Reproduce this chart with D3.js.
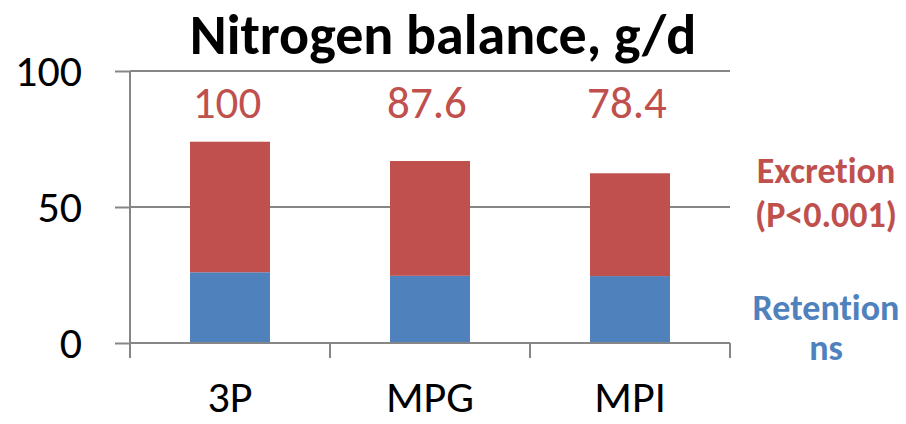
<!DOCTYPE html>
<html>
<head>
<meta charset="utf-8">
<script src="https://cdn.jsdelivr.net/npm/d3@7"></script>
<style>
  body { margin: 0; background: #fff; }
  text { font-family: Carlito, Lato, sans-serif; font-variant-ligatures: none; }
</style>
</head>
<body>
<svg></svg>
<script>
const width = 906;
const height = 424;

// chart data
const categories = ['3P', 'MPG', 'MPI'];
const retention = [26.0, 24.7, 24.6];
const excretion = [48.0, 42.2, 37.8];
const totalLabels = ['100', '87.6', '78.4'];
const yTicks = [0, 50, 100];

const red = '#C0504D';
const blue = '#4F81BD';
const axisGrey = '#868686';

const svg = d3.select('svg')
    .attr('width', width).attr('height', height);

const x = d3.scaleBand()
    .domain(categories)
    .range([130, 730])
    .paddingInner(0.6)
    .paddingOuter(0.3);

const y = d3.scaleLinear()
    .domain([0, 100])
    .range([343, 71]);

// gridlines
svg.append('g')
    .selectAll('line')
    .data(yTicks.filter(d => d > 0))
    .enter().append('line')
    .attr('x1', 130).attr('x2', 730)
    .attr('y1', d => y(d)).attr('y2', d => y(d))
    .style('stroke', axisGrey)
    .style('stroke-width', 2);

// stacked bars
const rows = categories.map((c, i) => ({cat: c, ret: retention[i], exc: excretion[i]}));
const stack = d3.stack().keys(['ret', 'exc'])(rows);
const colors = {ret: blue, exc: red};

svg.append('g')
    .selectAll('g')
    .data(stack)
    .enter().append('g')
    .style('fill', d => colors[d.key])
    .selectAll('rect')
    .data(d => d)
    .enter().append('rect')
    .attr('x', d => x(d.data.cat))
    .attr('width', x.bandwidth())
    .attr('y', d => y(d[1]))
    .attr('height', d => y(d[0]) - y(d[1]));

// y axis
const yAxis = d3.axisLeft(y)
    .tickValues(yTicks)
    .tickSize(15)
    .tickPadding(33);

const gy = svg.append('g')
    .attr('transform', 'translate(130,0)')
    .call(yAxis);
gy.select('.domain').remove();
gy.append('line')
    .attr('x1', 0).attr('x2', 0)
    .attr('y1', y(100)).attr('y2', y(0) + 15);
gy.selectAll('line')
    .style('stroke', axisGrey)
    .style('stroke-width', 2);
gy.selectAll('text')
    .style('font-size', '44px')
    .style('fill', '#000');

// x axis baseline and category ticks
svg.append('line')
    .attr('x1', 130).attr('x2', 730)
    .attr('y1', y(0)).attr('y2', y(0))
    .style('stroke', axisGrey)
    .style('stroke-width', 2);

const bounds = x.domain().map(c => x(c) - x.step() * x.paddingOuter())
    .concat([x.range()[1]]);
svg.append('g')
    .selectAll('line')
    .data(bounds.slice(1))
    .enter().append('line')
    .attr('x1', d => d).attr('x2', d => d)
    .attr('y1', y(0)).attr('y2', y(0) + 15)
    .style('stroke', axisGrey)
    .style('stroke-width', 2);

svg.append('g')
    .selectAll('text')
    .data(categories)
    .enter().append('text')
    .attr('x', d => x(d) + x.bandwidth() / 2)
    .attr('y', 412)
    .attr('text-anchor', 'middle')
    .style('font-size', '44px')
    .text(d => d);

// totals above bars
svg.append('g')
    .selectAll('text')
    .data(totalLabels)
    .enter().append('text')
    .attr('x', (d, i) => x(categories[i]) + x.bandwidth() / 2 - 3)
    .attr('y', 118)
    .attr('text-anchor', 'middle')
    .style('font-size', '45px')
    .style('fill', red)
    .text(d => d);

// title
svg.append('text')
    .attr('x', 443)
    .attr('y', 54)
    .attr('text-anchor', 'middle')
    .style('font-size', '56px')
    .style('font-weight', 'bold')
    .text('Nitrogen balance, g/d');

// side legend labels
const legend = [
    {text: 'Excretion', y: 183, color: red},
    {text: '(P<0.001)', y: 227, color: red},
    {text: 'Retention', y: 320, color: blue},
    {text: 'ns', y: 360, color: blue}
];
svg.append('g')
    .selectAll('text')
    .data(legend)
    .enter().append('text')
    .attr('x', 826)
    .attr('y', d => d.y)
    .attr('text-anchor', 'middle')
    .style('font-size', '36px')
    .style('font-weight', 'bold')
    .style('fill', d => d.color)
    .text(d => d.text);
</script>
</body>
</html>
